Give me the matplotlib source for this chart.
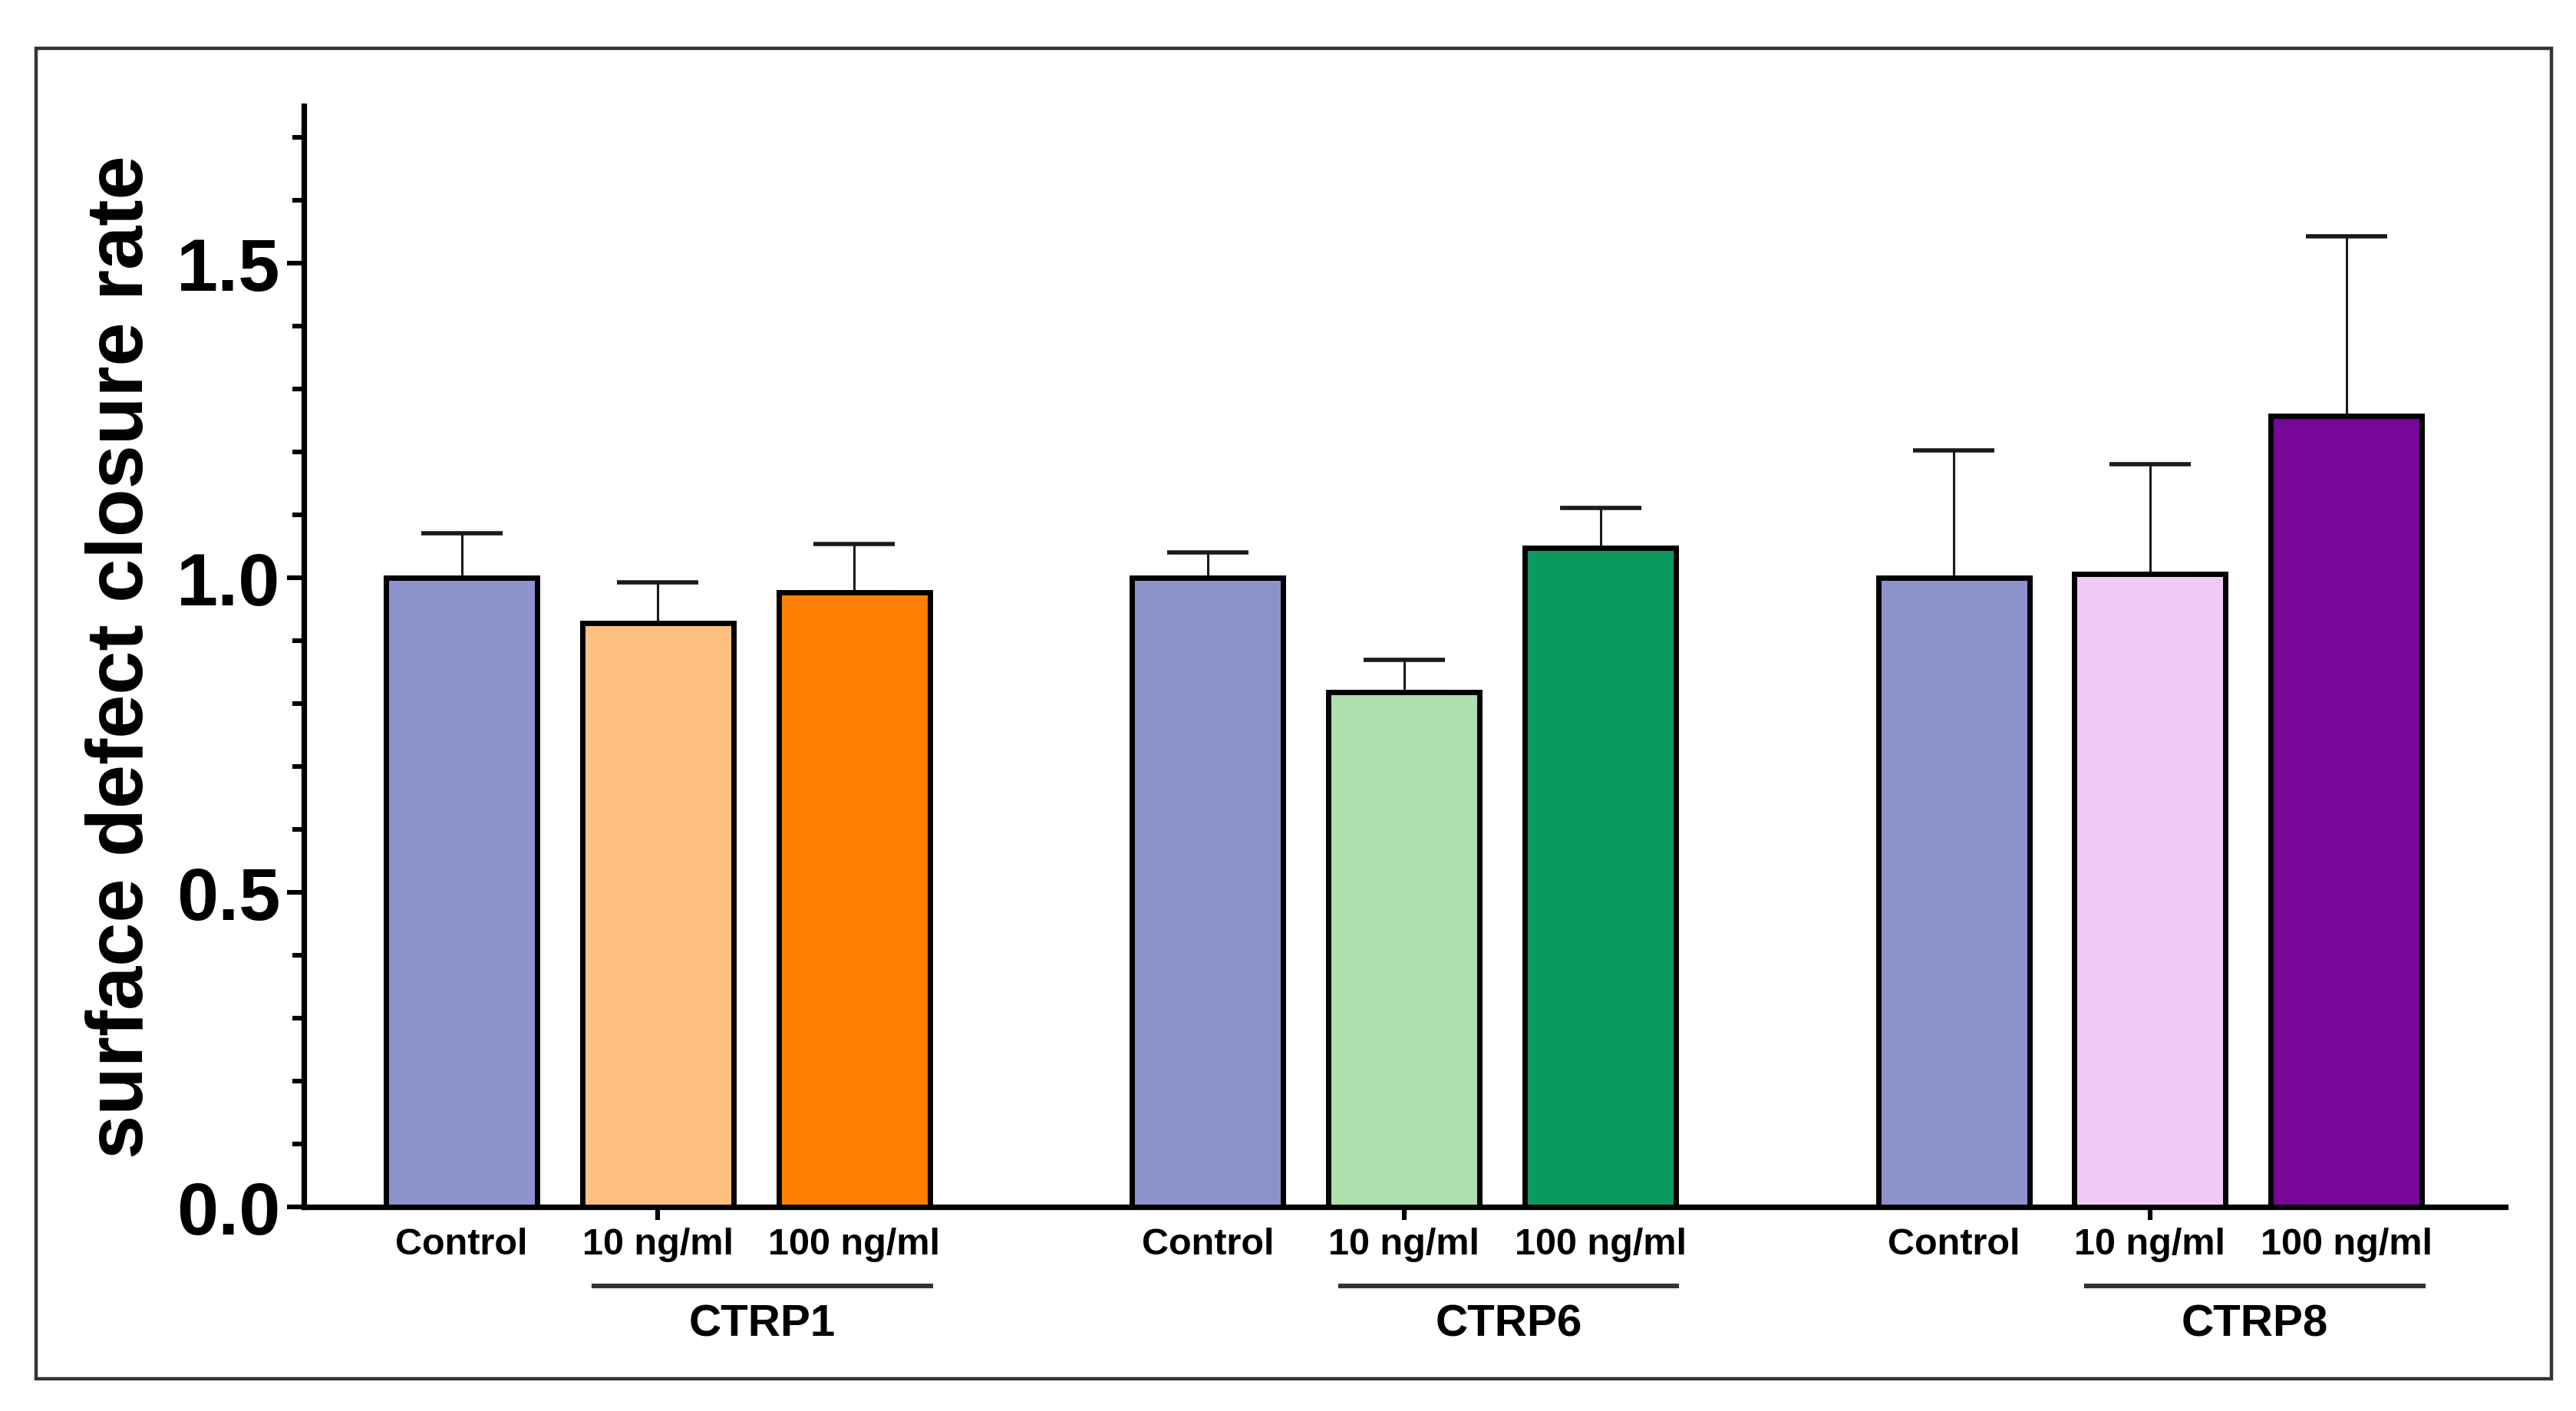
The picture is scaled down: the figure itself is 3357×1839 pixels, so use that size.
import numpy as np
import matplotlib
matplotlib.use('Agg')
import matplotlib.pyplot as plt
from matplotlib.patches import Rectangle
from matplotlib.transforms import blended_transform_factory

plt.rcParams['font.family'] = ['Liberation Sans', 'DejaVu Sans']

# data
groups = ['CTRP1', 'CTRP6', 'CTRP8']
conditions = ['Control', '10 ng/ml', '100 ng/ml']
means = [[1.00, 0.928, 0.977],
         [1.00, 0.818, 1.048],
         [1.00, 1.006, 1.257]]
sem = [[0.071, 0.065, 0.076],
       [0.040, 0.052, 0.063],
       [0.202, 0.175, 0.285]]
colors = [['#8B92CC', '#FFC080', '#FF8000'],
          ['#8B92CC', '#AEDFAE', '#0A9961'],
          ['#8B92CC', '#EECAF5', '#760798']]

fig = plt.figure(figsize=(16.785, 9.2), dpi=200)
ax = fig.add_axes([0.118, 0.1446, 0.8546, 0.7799])

# outer frame
fig.patches.append(Rectangle((0.014, 0.0228), 0.9765, 0.9424, transform=fig.transFigure,
                             fill=False, edgecolor='#333333', linewidth=1.6))

group_step = 3.8
width = 0.77
trans = blended_transform_factory(ax.transData, ax.transAxes)
mid_ticks = []
for g in range(len(groups)):
    pos = g * group_step + np.arange(3)
    ax.bar(pos, means[g], width=width, color=colors[g], edgecolor='black',
           linewidth=2.5, zorder=3)
    ax.errorbar(pos, means[g], yerr=[np.zeros(3), sem[g]], fmt='none',
                ecolor='#1a1a1a', elinewidth=1.1, capsize=19, capthick=2.0,
                zorder=2)
    for p, lab in zip(pos, conditions):
        ax.text(p, -0.034, lab, transform=trans, ha='center', va='center',
                fontsize=17.5, fontweight='bold')
    ax.plot([pos[1] - 0.325, pos[2] + 0.39], [-0.0717, -0.0717], transform=trans,
            color='#333333', linewidth=2.2, clip_on=False)
    ax.text((pos[1] - 0.325 + pos[2] + 0.39) / 2, -0.106, groups[g], transform=trans,
            ha='center', va='center', fontsize=21, fontweight='bold')
    mid_ticks.append(pos[1])

ax.set_xlim(-0.803, 2 * group_step + 2 + 0.81)
ax.set_ylim(0, 1.75)
ax.set_yticks([0.0, 0.5, 1.0, 1.5])
ax.set_yticklabels(['0.0', '0.5', '1.0', '1.5'], fontsize=35, fontweight='bold')
ax.set_yticks(np.arange(0.1, 1.75, 0.1), minor=True)
ax.set_xticks(mid_ticks)
ax.set_xticklabels([])
ax.tick_params(axis='y', which='major', length=8, width=2.2, pad=3)
ax.tick_params(axis='y', which='minor', length=5.5, width=2.2)
ax.tick_params(axis='x', which='major', length=6, width=2.2)

for s in ['top', 'right']:
    ax.spines[s].set_visible(False)
for s in ['left', 'bottom']:
    ax.spines[s].set_linewidth(2.6)

ax.set_ylabel('surface defect closure rate', fontsize=37, fontweight='bold', labelpad=8)

fig.savefig('out.png', dpi=200)
